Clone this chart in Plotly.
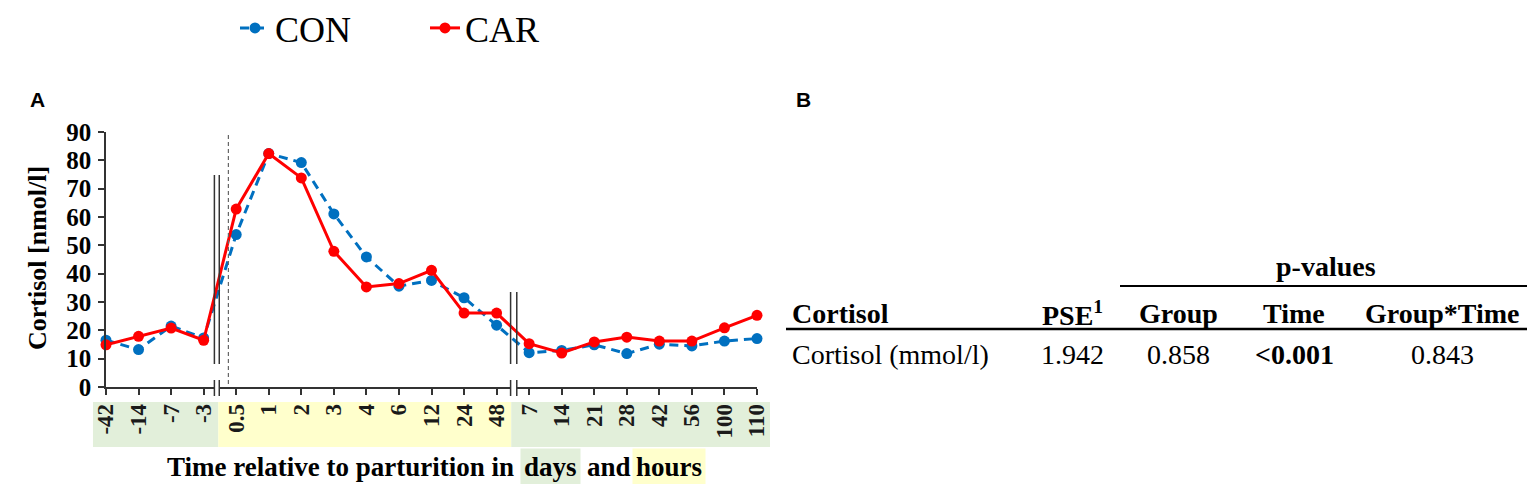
import plotly.graph_objects as go

W, H = 1535, 484
OFF = 8  # the page body keeps its default 8px margin

# sampling times (days before/after parturition, hours after parturition)
time_labels = ["-42", "-14", "-7", "-3", "0.5", "1", "2", "3", "4", "6", "12", "24", "48",
               "7", "14", "21", "28", "42", "56", "100", "110"]
time_units = ["days"] * 4 + ["hours"] * 9 + ["days"] * 8

con = [16.5, 13.2, 21.5, 17.3, 53.8, 82.4, 79.2, 61.1, 45.9, 35.6, 37.6, 31.5, 21.8,
       12.1, 12.9, 14.9, 11.8, 15.1, 14.5, 16.2, 17.1]
car = [14.9, 17.9, 20.8, 16.5, 62.8, 82.4, 73.8, 47.9, 35.3, 36.5, 41.2, 26.1, 26.1,
       15.3, 12.0, 15.9, 17.6, 16.2, 16.2, 20.9, 25.3]

y_ticks = [0, 10, 20, 30, 40, 50, 60, 70, 80, 90]

# table B
tab_header = ["Cortisol", "PSE<sup>1</sup>", "Group", "Time", "Group*Time"]
tab_row = ["Cortisol (mmol/l)", "1.942", "0.858", "&lt;0.001", "0.843"]
tab_row_bold = [False, False, False, True, False]

BLUE = "#0070C0"
RED = "#FF0000"
GREEN_BG = "#E2EFDA"
YELLOW_BG = "#FFFFCC"
SERIF = "Times New Roman, Liberation Serif, serif"
SANS = "Arial, Liberation Sans, sans-serif"

# plot area in (screen) pixels
X0, X1 = 106, 757
Y0, Y1 = 387, 132

FW, FH = W - OFF, H - OFF


def px(x):
    return (x - OFF) / FW


def py(y):
    return 1 - (y - OFF) / FH


def ix(i):
    # category index -> pixel x
    return X0 + i * (X1 - X0) / (len(time_labels) - 1)


idx = list(range(len(time_labels)))

fig = go.Figure()

fig.add_trace(go.Scatter(
    x=idx, y=con, name="CON", mode="lines+markers",
    line=dict(color=BLUE, width=3, dash="9px,6px"),
    marker=dict(color=BLUE, size=11),
    cliponaxis=False
))
fig.add_trace(go.Scatter(
    x=idx, y=car, name="CAR", mode="lines+markers",
    line=dict(color=RED, width=3),
    marker=dict(color=RED, size=11),
    cliponaxis=False
))

shapes = []

# coloured background behind tick labels (days / hours)
start = 0
for i in range(1, len(time_units) + 1):
    if i == len(time_units) or time_units[i] != time_units[start]:
        left = ix(start - 0.4) if start == 0 else ix(start - 0.55)
        right = ix(i - 1 + 0.4) if i == len(time_units) else ix(i - 1 + 0.45)
        shapes.append(dict(type="rect", xref="paper", yref="paper", layer="below",
                           x0=px(left), x1=px(right), y0=py(447), y1=py(402),
                           fillcolor=GREEN_BG if time_units[start] == "days" else YELLOW_BG,
                           line=dict(width=0)))
        start = i

# axis breaks
for a, b, top in [(3.33, 3.48, 175), (12.43, 12.62, 292)]:
    for xx in (a, b):
        shapes.append(dict(type="line", xref="paper", yref="paper",
                           x0=px(ix(xx)), x1=px(ix(xx)), y0=py(top), y1=py(364),
                           line=dict(color="#333333", width=1.5)))
    shapes.append(dict(type="rect", xref="paper", yref="paper",
                       x0=px(ix(a)), x1=px(ix(b)), y0=py(390), y1=py(384),
                       fillcolor="white", line=dict(width=0)))
    for xx in (a, b):
        shapes.append(dict(type="line", xref="paper", yref="paper",
                           x0=px(ix(xx)), x1=px(ix(xx)), y0=py(380), y1=py(396),
                           line=dict(color="#333333", width=1.5)))

# parturition marker
shapes.append(dict(type="line", xref="paper", yref="paper",
                   x0=px(ix(3.76)), x1=px(ix(3.76)), y0=py(135), y1=py(Y0),
                   line=dict(color="#666666", width=1.2, dash="4px,3px")))

# table rules
shapes.append(dict(type="line", xref="paper", yref="paper",
                   x0=px(1120), x1=1, y0=py(286), y1=py(286),
                   line=dict(color="black", width=2)))
shapes.append(dict(type="line", xref="paper", yref="paper",
                   x0=px(786), x1=1, y0=py(329), y1=py(329),
                   line=dict(color="black", width=2.5)))

ann = []
# panel letters
ann.append(dict(text="<b>A</b>", x=px(28), y=py(100), xanchor="left", yanchor="middle",
                font=dict(family=SANS, size=21, color="black")))
ann.append(dict(text="<b>B</b>", x=px(794), y=py(100), xanchor="left", yanchor="middle",
                font=dict(family=SANS, size=21, color="black")))

# y-axis title
ann.append(dict(text="Cortisol [nmol/l]", x=px(37), y=py(258), textangle=-90,
                xanchor="center", yanchor="middle",
                font=dict(family=SERIF, size=26, color="black", weight="bold")))

# x-axis title with highlighted words
xt_font = dict(family=SERIF, size=27, color="black", weight="bold")
ann.append(dict(text="Time relative to parturition in", x=px(165), y=py(467),
                xanchor="left", yanchor="middle", font=xt_font))
ann.append(dict(text="days", x=px(520), y=py(467), xanchor="left", yanchor="middle",
                font=xt_font, bgcolor=GREEN_BG, borderpad=3))
ann.append(dict(text="and", x=px(585), y=py(467), xanchor="left", yanchor="middle",
                font=xt_font))
ann.append(dict(text="hours", x=px(632), y=py(467), xanchor="left", yanchor="middle",
                font=xt_font, bgcolor=YELLOW_BG, borderpad=3))

# table B
col_x = [790, 1072, 1178, 1294, 1442]
col_anchor = ["left", "center", "center", "center", "center"]
tfont = dict(family=SERIF, size=28, color="black")
ann.append(dict(text="p-values", x=px(1326), y=py(266), xanchor="center", yanchor="middle",
                font=dict(tfont, weight="bold")))
for t, cx, anc in zip(tab_header, col_x, col_anchor):
    ann.append(dict(text=t, x=px(cx), y=py(313), xanchor=anc, yanchor="middle",
                    font=dict(tfont, weight="bold")))
for t, cx, anc, b in zip(tab_row, col_x, col_anchor, tab_row_bold):
    ann.append(dict(text=t, x=px(cx), y=py(354), xanchor=anc, yanchor="middle",
                    font=dict(tfont, weight="bold" if b else "normal")))

for a in ann:
    a.update(xref="paper", yref="paper", showarrow=False)

fig.update_layout(
    width=FW, height=FH,
    margin=dict(l=0, r=0, t=0, b=0, autoexpand=False),
    paper_bgcolor="white", plot_bgcolor="white",
    shapes=shapes, annotations=ann,
    showlegend=True,
    legend=dict(orientation="h", x=px(235), y=py(28), xanchor="left", yanchor="middle",
                font=dict(family=SERIF, size=36, color="black"),
                entrywidth=145, bgcolor="rgba(0,0,0,0)"),
    xaxis=dict(domain=[px(X0), px(X1)], range=[0, len(time_labels) - 1],
               tickvals=idx, ticktext=time_labels, tickangle=-90, automargin=False,
               showline=True, linecolor="#333333", linewidth=1.5,
               ticks="outside", ticklen=6, tickcolor="#333333", tickwidth=1.5,
               showgrid=False, zeroline=False,
               tickfont=dict(family=SERIF, size=23, color="#1a1a1a", weight="bold")),
    yaxis=dict(domain=[py(Y0), py(Y1)], range=[0, 90], tickvals=y_ticks, automargin=False,
               showline=True, linecolor="#333333", linewidth=1.5,
               ticks="outside", ticklen=6, tickcolor="#333333", tickwidth=1.5,
               showgrid=False, zeroline=False, ticklabelstandoff=2,
               tickfont=dict(family=SERIF, size=25, color="black", weight="bold")),
)

fig.write_html("out.html")
